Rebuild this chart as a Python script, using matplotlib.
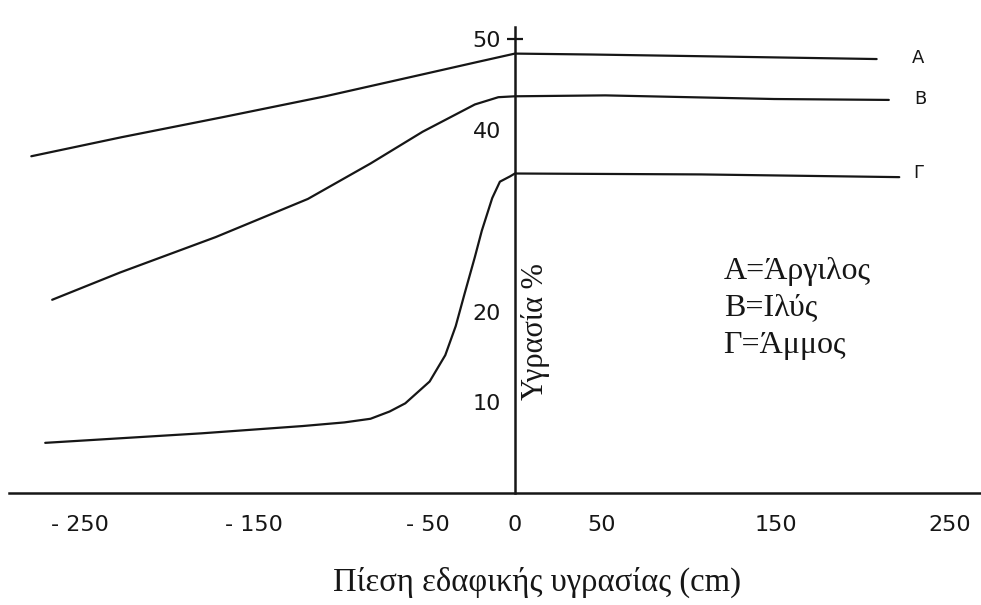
import matplotlib
matplotlib.use("Agg")
import matplotlib.pyplot as plt
from matplotlib.ticker import FixedLocator

# ---- data (soil-water retention curves) ----
a_x = [-278, -226, -168, -109, -51, -21, -7, 0, 44, 111, 208]
a_y = [37.1, 39.2, 41.4, 43.7, 46.2, 47.5, 48.1, 48.4, 48.3, 48.1, 47.8]

b_x = [-266, -227, -172, -119, -83, -53, -23, -9.5, 0, 52, 149, 215]
b_y = [21.3, 24.3, 28.2, 32.4, 36.3, 39.8, 42.8, 43.6, 43.7, 43.8, 43.4, 43.3]

g_x = [-270, -180, -122, -98, -83, -72, -63, -49, -40, -34, -29, -23, -19, -13, -8.6, -2.6, 0, 107, 221]
g_y = [5.55, 6.6, 7.4, 7.8, 8.2, 9.0, 9.9, 12.3, 15.2, 18.4, 21.9, 26.0, 28.9, 32.5, 34.3, 34.9, 35.2, 35.1, 34.8]

series_names = ["A", "B", "Γ"]
legend_lines = ["A=Άργιλος", "B=Ιλύς", "Γ=Άμμος"]

x_ticks = [-250, -150, -50, 0, 50, 150, 250]
x_tick_labels = ["- 250", "- 150", "- 50", "0", "50", "150", "250"]
y_ticks = [10, 20, 40, 50]
y_tick_labels = ["10", "20", "40", "50"]

x_label = "Πίεση εδαφικής υγρασίας (cm)"
y_label = "Υγρασία %"

# ---- figure ----
ink = "#161616"
fig = plt.figure(figsize=(9.81, 6.05), dpi=100)
fig.patch.set_facecolor("white")
ax = fig.add_axes([0, 0, 1, 1])
ax.set_xlim(-296, 268)
ax.set_ylim(-12.3, 54.3)
ax.set_facecolor("white")

for xs, ys in [(a_x, a_y), (b_x, b_y), (g_x, g_y)]:
    ax.plot(xs, ys, color=ink, lw=1.6, solid_capstyle="round", solid_joinstyle="round")

# axes crossing at the origin
ax.spines["top"].set_visible(False)
ax.spines["right"].set_visible(False)
ax.spines["left"].set_position(("data", 0))
ax.spines["bottom"].set_position(("data", 0))
ax.spines["left"].set_bounds(0, 51.3)
ax.spines["bottom"].set_bounds(-291, 268)
for s in ("left", "bottom"):
    ax.spines[s].set_linewidth(1.8)
    ax.spines[s].set_color(ink)

ax.set_xticks(x_ticks)
ax.set_xticklabels(x_tick_labels, fontsize=16, color=ink, family="DejaVu Sans")
ax.set_yticks(y_ticks)
ax.set_yticklabels(y_tick_labels, fontsize=16, color=ink, family="DejaVu Sans")
ax.tick_params(axis="x", length=0, pad=16)
ax.tick_params(axis="y", length=0, pad=10)
# the single "+" tick at 50
ax.yaxis.remove_overlapping_locs = False
ax.yaxis.set_minor_locator(FixedLocator([50]))
ax.tick_params(axis="y", which="minor", direction="inout", length=11, width=1.6, color=ink)

# series end labels
label_pos = [(232, a_y[-1] + 0.1), (233, b_y[-1] + 0.1), (232, g_y[-1] + 0.5)]
for name, (lx, ly) in zip(series_names, label_pos):
    ax.text(lx, ly, name, fontsize=13, color=ink, family="DejaVu Sans",
            ha="center", va="center")

# key
for txt, ly in zip(legend_lines, [24.4, 20.4, 16.3]):
    ax.text(120, ly, txt, fontsize=23, color=ink, family="Liberation Serif",
            ha="left", va="center")

# axis titles
ax.text(12, 17.8, y_label, rotation=90, fontsize=22, color=ink,
        family="Liberation Serif", ha="center", va="center")
ax.text(13, -9.8, x_label, fontsize=23.5, color=ink,
        family="Liberation Serif", ha="center", va="center")

fig.savefig("out.png", dpi=100, facecolor="white")
